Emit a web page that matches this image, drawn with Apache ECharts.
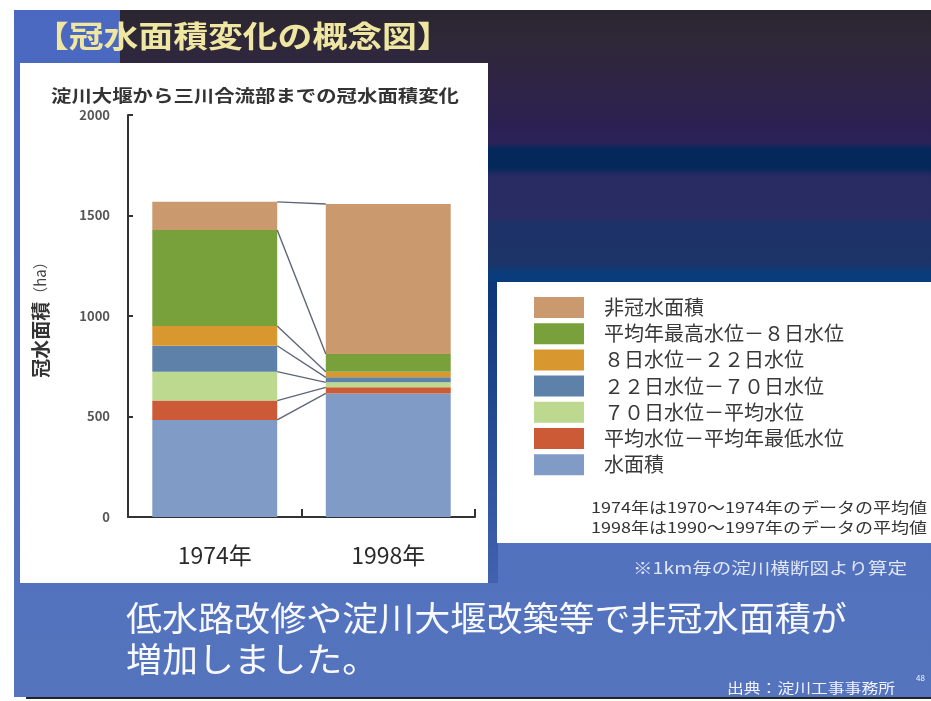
<!DOCTYPE html>
<html><head><meta charset="utf-8">
<script src="https://cdn.jsdelivr.net/npm/echarts@6/dist/echarts.min.js"></script>
<style>html,body{margin:0;padding:0;background:#fff;}#c{width:931px;height:701px;}</style>
</head><body><div id="c"></div>
<script>
// ---- data ----
const categories = ['1974年', '1998年'];
const seriesNames = ['水面積', '平均水位－平均年最低水位', '７０日水位－平均水位', '２２日水位－７０日水位', '８日水位－２２日水位', '平均年最高水位－８日水位', '非冠水面積'];
const waterArea   = [483, 615];
const avgToLow    = [96, 30];
const day70ToAvg  = [144, 25];
const day22To70   = [129, 25];
const day8To22    = [98, 28];
const highTo8     = [478, 88];
const nonFlooded  = [140, 746];
const yMin = 0, yMax = 2000, yStep = 500;
const seriesColors = ['#809cc6', '#cc5a36', '#bcd98f', '#5d81a9', '#d9972f', '#79a13b', '#cb996e'];

const seriesValues = [waterArea, avgToLow, day70ToAvg, day22To70, day8To22, highTo8, nonFlooded];
const FONT = '"Noto Sans CJK JP", "Noto Sans", sans-serif';
const BAR_RATIO = 0.72;

// cumulative tops for the connector lines
const boundaries = [];
let c0 = 0, c1 = 0;
seriesValues.forEach(v => { c0 += v[0]; c1 += v[1]; boundaries.push([0, c0, c1]); });

const barSeries = seriesNames.map((name, i) => ({
  name, type: 'bar', stack: 'total', barWidth: (BAR_RATIO * 100) + '%',
  itemStyle: { color: seriesColors[i] }, data: seriesValues[i], z: 3
}));

function txt(x, y, text, size, color, opts) {
  opts = opts || {};
  return {
    type: 'text', x, y, scaleX: opts.sx || 1, z: 100,
    style: {
      text, fontSize: size, fontFamily: FONT, fontWeight: opts.bold ? 'bold' : 'normal',
      fill: color, align: opts.align || 'left', textAlign: opts.align || 'left',
      verticalAlign: 'middle', textVerticalAlign: 'middle',
      shadowColor: opts.shadow || 'transparent', shadowBlur: opts.shadow ? 3 : 0
    }
  };
}

const chart = echarts.init(document.getElementById('c'));
chart.setOption({
  animation: false,
  backgroundColor: '#ffffff',
  graphic: [
    { type: 'rect', z: -10, shape: { x: 14, y: 10, width: 917, height: 687 },
      style: { fill: new echarts.graphic.LinearGradient(0, 0, 0, 1, [
        { offset: 0, color: '#4a68c0' }, { offset: 1, color: '#5574bd' }]) } },
    { type: 'rect', z: -9, shape: { x: 120, y: 10, width: 811, height: 272 },
      style: { fill: new echarts.graphic.LinearGradient(0, 0, 0, 1, [
        { offset: 0, color: '#2a2630' }, { offset: 0.12, color: '#2f2838' },
        { offset: 0.28, color: '#2f2446' }, { offset: 0.42, color: '#2c2052' },
        { offset: 0.49, color: '#2a2358' }, { offset: 0.51, color: '#05285a' },
        { offset: 0.58, color: '#03285a' }, { offset: 0.61, color: '#282a62' },
        { offset: 0.76, color: '#2a2c64' }, { offset: 0.78, color: '#1e3268' },
        { offset: 0.93, color: '#1c3468' }, { offset: 0.97, color: '#0a3c7c' },
        { offset: 1, color: '#0a3c7c' }]) } },
    { type: 'rect', z: -9, shape: { x: 486, y: 282, width: 12, height: 301 },
      style: { fill: new echarts.graphic.LinearGradient(0, 0, 0, 1, [
        { offset: 0, color: '#0c3676' }, { offset: 1, color: '#4262b0' }]) } },
    { type: 'rect', z: -8, shape: { x: 20, y: 63, width: 468, height: 520 }, style: { fill: '#ffffff' } },
    { type: 'rect', z: -8, shape: { x: 497, y: 282, width: 434, height: 261 }, style: { fill: '#ffffff' } },
    { type: 'rect', z: -8, shape: { x: 26, y: 697, width: 905, height: 2 }, style: { fill: '#222222' } },
    txt(34, 36, '【冠水面積変化の概念図】', 30, '#efe6a2', { bold: true, sx: 1.16, shadow: '#1a1a30' }),
    txt(51, 96, '淀川大堰から三川合流部までの冠水面積変化', 17, '#333333', { bold: true, sx: 1.2 }),
    txt(927, 507, '1974年は1970～1974年のデータの平均値', 15, '#333333', { align: 'right', sx: 1.2 }),
    txt(927, 527, '1998年は1990～1997年のデータの平均値', 15, '#333333', { align: 'right', sx: 1.2 }),
    txt(907, 568, '※1km毎の淀川横断図より算定', 16, '#dfe6f6', { align: 'right', sx: 1.22 }),
    txt(126, 618, '低水路改修や淀川大堰改築等で非冠水面積が', 34, '#f8f9ff', { sx: 1.06 }),
    txt(126, 659, '増加しました。', 34, '#f8f9ff', { sx: 1.06 }),
    txt(895, 688, '出典：淀川工事事務所', 14, '#f0f3ff', { align: 'right', sx: 1.2 }),
    txt(925, 678, '48', 8, '#f0f3ff', { align: 'right' })
  ],
  legend: {
    orient: 'vertical', left: 529, top: 292, icon: 'rect',
    itemWidth: 50, itemHeight: 21, itemGap: 5.2,
    data: seriesNames.slice().reverse(),
    textStyle: { fontSize: 20, color: '#383838', fontFamily: FONT, padding: [0, 0, 0, 15] },
    selectedMode: false
  },
  grid: { left: 128, right: 456, top: 115, bottom: 184, containLabel: false },
  xAxis: {
    type: 'category', data: categories,
    axisLine: { lineStyle: { color: '#333', width: 2 } },
    axisTick: { show: true, inside: true, length: 8, lineStyle: { color: '#333', width: 2 } },
    axisLabel: { fontSize: 23, color: '#2a2a2a', margin: 27, fontFamily: FONT }
  },
  yAxis: {
    type: 'value', min: yMin, max: yMax, interval: yStep,
    name: '{a|冠水面積}{b|（ha）}', nameLocation: 'middle', nameRotate: 90, nameGap: 78,
    nameTextStyle: { rich: {
      a: { fontSize: 19, fontWeight: 'bold', color: '#333', fontFamily: FONT },
      b: { fontSize: 15, color: '#444', fontFamily: FONT } } },
    splitLine: { show: false },
    axisLine: { show: true, lineStyle: { color: '#333', width: 2 } },
    axisTick: { show: true, inside: true, length: 5, lineStyle: { color: '#333', width: 2 } },
    axisLabel: { fontSize: 13, fontWeight: 'bold', color: '#555', margin: 18, fontFamily: FONT,
      formatter: v => String(v) }
  },
  series: barSeries.concat([{
    type: 'custom', coordinateSystem: 'cartesian2d', silent: true, z: 5,
    data: boundaries, encode: { x: 0, y: [1, 2] },
    renderItem: function (params, api) {
      const band = api.size([1, 0])[0];
      const half = band * BAR_RATIO / 2;
      const p1 = api.coord([0, api.value(1)]);
      const p2 = api.coord([1, api.value(2)]);
      return { type: 'line', shape: { x1: p1[0] + half, y1: p1[1], x2: p2[0] - half, y2: p2[1] },
        style: { stroke: '#5f6678', lineWidth: 1.4 } };
    }
  }])
});
</script></body></html>
